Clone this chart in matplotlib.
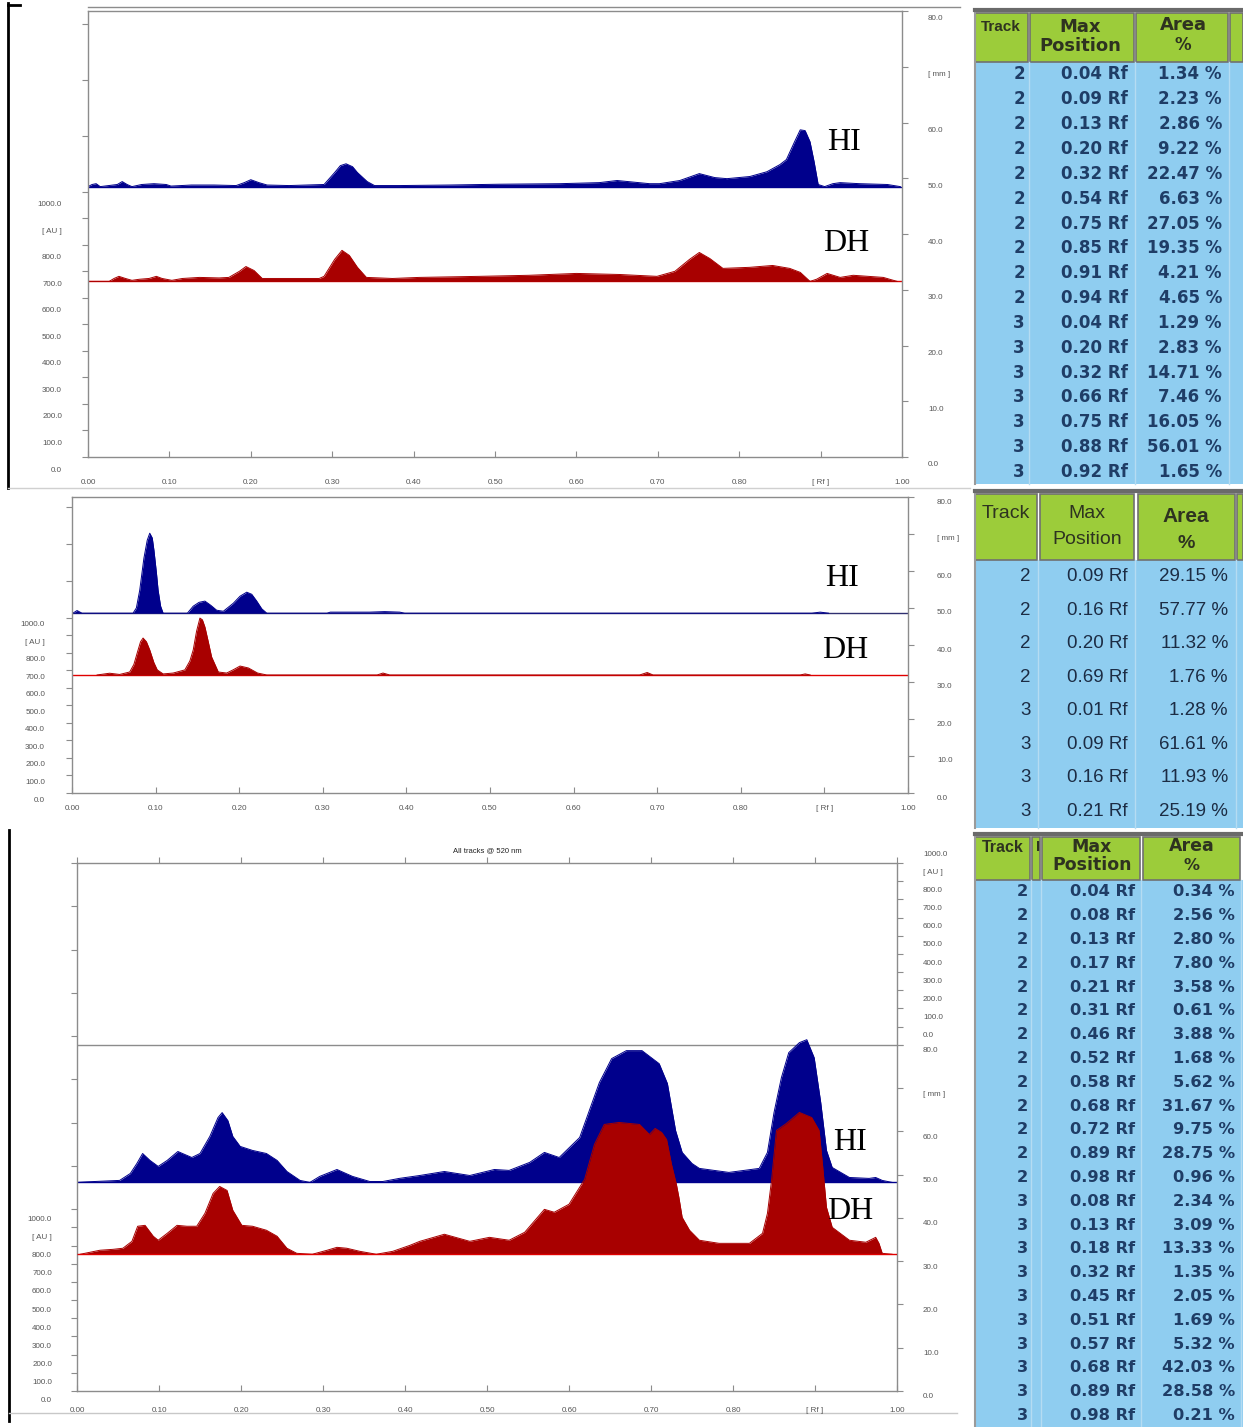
import matplotlib.pyplot as plt
import numpy as np
from matplotlib.patches import Rectangle
from matplotlib.transforms import ScaledTranslation, blended_transform_factory

W, H = 1243, 1427
fig = plt.figure(figsize=(W / 100, H / 100), dpi=100)

# ---------------- densitograms: Rf and signal above own baseline (AU)
p1_hi_rf = [0.000, 0.005, 0.010, 0.015, 0.036, 0.042, 0.048, 0.054, 0.066, 0.081, 0.096, 0.102,
            0.127, 0.155, 0.182, 0.192, 0.200, 0.210, 0.220, 0.247, 0.290, 0.303, 0.310, 0.317,
            0.325, 0.331, 0.343, 0.352, 0.383, 0.444, 0.505, 0.579, 0.628, 0.650, 0.690, 0.702,
            0.727, 0.751, 0.770, 0.785, 0.813, 0.834, 0.850, 0.858, 0.868, 0.875, 0.881, 0.887,
            0.892, 0.897, 0.905, 0.915, 0.924, 0.948, 0.982, 0.998]
p1_hi_au = [0, 8, 11, 0, 8, 19, 8, 0, 8, 11, 8, 2,
            6, 6, 4, 15, 26, 15, 6, 4, 8, 53, 79, 86,
            75, 53, 19, 4, 4, 6, 9, 11, 15, 23, 11, 11,
            23, 49, 34, 30, 38, 56, 83, 102, 169, 214, 211, 169,
            94, 8, 0, 11, 15, 11, 8, 0]
p1_dh_rf = [0.000, 0.026, 0.032, 0.038, 0.046, 0.054, 0.063, 0.075, 0.084, 0.091, 0.103, 0.116,
            0.137, 0.161, 0.173, 0.186, 0.194, 0.204, 0.214, 0.235, 0.284, 0.290, 0.303, 0.312,
            0.321, 0.331, 0.342, 0.374, 0.407, 0.481, 0.542, 0.600, 0.653, 0.699, 0.721, 0.739,
            0.751, 0.764, 0.780, 0.813, 0.841, 0.862, 0.875, 0.887, 0.895, 0.908, 0.924, 0.940,
            0.977, 0.994]
p1_dh_au = [0, 0, 11, 19, 11, 4, 8, 11, 19, 11, 4, 11,
            15, 13, 15, 38, 56, 41, 11, 11, 11, 19, 83, 117,
            98, 53, 15, 11, 15, 19, 23, 30, 26, 19, 38, 83,
            109, 86, 49, 53, 60, 49, 34, 0, 8, 30, 15, 23,
            15, 0]

p2_hi_rf = [0.000, 0.001, 0.006, 0.012, 0.073, 0.077, 0.081, 0.086, 0.090, 0.093, 0.096, 0.098,
            0.101, 0.103, 0.106, 0.109, 0.138, 0.145, 0.152, 0.159, 0.166, 0.173, 0.181, 0.193,
            0.201, 0.209, 0.215, 0.221, 0.227, 0.233, 0.305, 0.309, 0.329, 0.356, 0.374, 0.392,
            0.398, 0.885, 0.895, 0.905]
p2_hi_au = [0, 0, 15, 0, 0, 30, 131, 314, 417, 457, 430, 360,
            230, 131, 40, 0, 0, 40, 62, 69, 45, 17, 11, 57,
            97, 120, 108, 69, 25, 0, 0, 6, 6, 6, 9, 6,
            0, 0, 6, 0]
p2_dh_rf = [0.030, 0.039, 0.045, 0.057, 0.069, 0.074, 0.078, 0.082, 0.085, 0.089, 0.093, 0.098,
            0.102, 0.109, 0.121, 0.135, 0.141, 0.145, 0.149, 0.153, 0.156, 0.159, 0.163, 0.167,
            0.175, 0.185, 0.193, 0.201, 0.211, 0.222, 0.233, 0.365, 0.372, 0.380, 0.679, 0.688,
            0.695, 0.871, 0.877, 0.883]
p2_dh_au = [0, 6, 10, 3, 17, 60, 126, 190, 211, 190, 143, 70,
            29, 6, 11, 29, 80, 143, 250, 325, 315, 274, 190, 103,
            17, 11, 30, 51, 40, 11, 0, 0, 11, 0, 0, 14,
            0, 0, 6, 0]

p3_hi_rf = [0.000, 0.012, 0.052, 0.065, 0.073, 0.080, 0.089, 0.099, 0.110, 0.123, 0.140, 0.150,
            0.162, 0.172, 0.177, 0.184, 0.190, 0.199, 0.214, 0.231, 0.244, 0.256, 0.272, 0.284,
            0.296, 0.317, 0.336, 0.357, 0.373, 0.393, 0.418, 0.448, 0.479, 0.509, 0.527, 0.552,
            0.570, 0.588, 0.613, 0.637, 0.652, 0.670, 0.689, 0.710, 0.720, 0.730, 0.738, 0.750,
            0.759, 0.795, 0.832, 0.842, 0.850, 0.859, 0.868, 0.881, 0.890, 0.899, 0.907, 0.914,
            0.921, 0.942, 0.966, 0.974, 0.982, 0.994]
p3_hi_au = [0, 3, 11, 49, 104, 159, 121, 88, 121, 170, 137, 159,
            253, 357, 384, 340, 253, 198, 176, 159, 121, 60, 11, 0,
            33, 71, 33, 5, 5, 22, 38, 60, 38, 71, 66, 110,
            165, 137, 247, 549, 681, 725, 725, 653, 544, 285, 165, 104,
            77, 55, 77, 165, 384, 576, 714, 769, 785, 686, 439, 176,
            82, 27, 22, 27, 11, 0]
p3_dh_rf = [0.004, 0.028, 0.044, 0.056, 0.067, 0.074, 0.083, 0.093, 0.099, 0.110, 0.122, 0.134,
            0.146, 0.156, 0.166, 0.174, 0.183, 0.190, 0.201, 0.214, 0.231, 0.244, 0.256, 0.268,
            0.287, 0.305, 0.317, 0.329, 0.345, 0.365, 0.385, 0.406, 0.418, 0.448, 0.479, 0.503,
            0.527, 0.546, 0.570, 0.582, 0.600, 0.619, 0.631, 0.643, 0.661, 0.686, 0.698, 0.705,
            0.713, 0.719, 0.725, 0.731, 0.734, 0.738, 0.747, 0.759, 0.783, 0.820, 0.836, 0.842,
            0.847, 0.853, 0.865, 0.881, 0.896, 0.905, 0.909, 0.914, 0.921, 0.942, 0.962, 0.974,
            0.978, 0.982, 0.994]
p3_dh_au = [0, 22, 27, 33, 71, 154, 159, 99, 77, 115, 159, 154,
            154, 225, 335, 373, 351, 242, 159, 154, 132, 99, 33, 5,
            0, 22, 38, 33, 16, 0, 16, 49, 71, 110, 71, 93,
            77, 121, 247, 231, 275, 412, 604, 714, 725, 714, 659, 692,
            670, 631, 494, 384, 313, 203, 132, 77, 60, 60, 115, 225,
            406, 681, 719, 780, 752, 681, 500, 258, 148, 77, 66, 93,
            60, 5, 0]

# ---------------- peak tables
t1_track = [2, 2, 2, 2, 2, 2, 2, 2, 2, 2, 3, 3, 3, 3, 3, 3, 3]
t1_pos = [0.04, 0.09, 0.13, 0.20, 0.32, 0.54, 0.75, 0.85, 0.91, 0.94, 0.04, 0.20, 0.32, 0.66, 0.75, 0.88, 0.92]
t1_area = [1.34, 2.23, 2.86, 9.22, 22.47, 6.63, 27.05, 19.35, 4.21, 4.65, 1.29, 2.83, 14.71, 7.46, 16.05, 56.01, 1.65]

t2_track = [2, 2, 2, 2, 3, 3, 3, 3]
t2_pos = [0.09, 0.16, 0.20, 0.69, 0.01, 0.09, 0.16, 0.21]
t2_area = [29.15, 57.77, 11.32, 1.76, 1.28, 61.61, 11.93, 25.19]

t3_track = [2, 2, 2, 2, 2, 2, 2, 2, 2, 2, 2, 2, 2, 3, 3, 3, 3, 3, 3, 3, 3, 3, 3]
t3_pos = [0.04, 0.08, 0.13, 0.17, 0.21, 0.31, 0.46, 0.52, 0.58, 0.68, 0.72, 0.89, 0.98,
          0.08, 0.13, 0.18, 0.32, 0.45, 0.51, 0.57, 0.68, 0.89, 0.98]
t3_area = [0.34, 2.56, 2.80, 7.80, 3.58, 0.61, 3.88, 1.68, 5.62, 31.67, 9.75, 28.75, 0.96,
           2.34, 3.09, 13.33, 1.35, 2.05, 1.69, 5.32, 42.03, 28.58, 0.21]

x_ticks = [0.0, 0.1, 0.2, 0.3, 0.4, 0.5, 0.6, 0.7, 0.8, 0.9, 1.0]
x_labels = ['0.00', '0.10', '0.20', '0.30', '0.40', '0.50', '0.60', '0.70', '0.80', '[ Rf ]', '1.00']
au_ticks = [0, 100, 200, 300, 400, 500, 600, 700, 800, 900, 1000]
au_labels = ['0.0', '100.0', '200.0', '300.0', '400.0', '500.0', '600.0', '700.0', '800.0', '[ AU ]', '1000.0']
mm_ticks = [0, 10, 20, 30, 40, 50, 60, 70, 80]
mm_labels = ['0.0', '10.0', '20.0', '30.0', '40.0', '50.0', '60.0', '[ mm ]', '80.0']

AXC = '#8c8c8c'
NAVY = '#00008c'
DRED = '#a80000'
TF = dict(family='Liberation Sans', fontsize=5.8, color='#555555')


def offset(dx, dy):
    return ScaledTranslation(dx / 100, -dy / 100, fig.dpi_scale_trans)


def make_axes(x0, x1, ytop, ybot, ymax):
    ax = fig.add_axes([x0 / W, 1 - ybot / H, (x1 - x0) / W, (ybot - ytop) / H])
    ax.set_xlim(0, 1)
    ax.set_ylim(0, ymax)
    ax.patch.set_alpha(0)
    for s in ax.spines.values():
        s.set_color(AXC)
        s.set_linewidth(1.0)
    return ax


def trace(ax, rf, au, base, au_mm, color, z):
    top = base + np.array(au) * au_mm
    ax.fill_between(rf, base, top, color=color, lw=0, zorder=z)
    ax.plot(rf, top, color=color, lw=0.7, zorder=z)


def x_scale(ax, dy):
    ax.set_xticks(x_ticks)
    ax.tick_params(axis='x', direction='in', length=4, color=AXC, labelbottom=False)
    tr = blended_transform_factory(ax.transData, ax.transAxes) + offset(0, dy)
    for v, s in zip(x_ticks, x_labels):
        ax.text(v, 0, s, transform=tr, ha='center', va='center', **TF)


def left_scale(ax, au_mm, ymax, pad, dy):
    au_pos = [v * au_mm for v in au_ticks]
    extra = list(np.arange(au_pos[-1] + 10, ymax + 0.5, 10))
    ax.set_yticks(au_pos + extra)
    ax.tick_params(axis='y', direction='out', length=4, color=AXC, labelleft=False)
    tr = blended_transform_factory(ax.transAxes, ax.transData) + offset(-pad, dy)
    for v, s in zip(au_pos, au_labels):
        ax.text(0, v, s, transform=tr, ha='right', va='center', **TF)


def right_scale(ax, vals, labels, dys, pad):
    ax2 = ax.twinx()
    ax2.set_ylim(ax.get_ylim())
    ax2.set_yticks(vals)
    ax2.tick_params(axis='y', direction='out', length=4, color=AXC, labelright=False)
    for s in ax2.spines.values():
        s.set_visible(False)
    tr = blended_transform_factory(ax.transAxes, ax.transData)
    for v, s, dy in zip(vals, labels, dys):
        ax.text(1, v, s, transform=tr + offset(pad, dy), ha='left', va='center', **TF)


def tag(ax, x, y, s):
    ax.text(x, y, s, family='Liberation Serif', fontsize=23, color='black', ha='center', va='center')


# ---------------- overlay in pixel coordinates (frames and tables)
ov = fig.add_axes([0, 0, 1, 1])
ov.set_xlim(0, W)
ov.set_ylim(H, 0)
ov.axis('off')

ov.plot([8, 8], [3, 488], color='black', lw=2)
ov.plot([8, 20], [5, 5], color='black', lw=2)
ov.plot([9, 9], [830, 1421], color='black', lw=2)
ov.plot([9, 957], [1413, 1413], color='#c8c8c8', lw=1)
ov.plot([8, 970], [488, 488], color='#d0d0d0', lw=1)
ov.plot([88, 960], [7, 7], color=AXC, lw=1)

# ---------------- panel 1
au1 = 0.0476
ax = make_axes(88, 902, 11, 457, 80)
ax.hlines(48.5, 0, 1, color=NAVY, lw=1.0)
ax.hlines(31.5, 0, 1, color='#e00000', lw=1.0)
trace(ax, p1_hi_rf, p1_hi_au, 48.5, au1, NAVY, 2)
trace(ax, p1_dh_rf, p1_dh_au, 31.5, au1, DRED, 2)
x_scale(ax, 25)
left_scale(ax, au1, 80, 26, 13)
right_scale(ax, mm_ticks, mm_labels, [8] * 9, 26)
tag(ax, 0.929, 56.4, 'HI')
tag(ax, 0.931, 38.3, 'DH')

# ---------------- panel 2
au2 = 0.0473
ax = make_axes(72, 908, 497, 793, 80)
ax.hlines(48.6, 0, 1, color='#303070', lw=1.0)
ax.hlines(31.9, 0, 1, color='#e00000', lw=1.0)
trace(ax, p2_hi_rf, p2_hi_au, 48.6, au2, NAVY, 2)
trace(ax, p2_dh_rf, p2_dh_au, 31.9, au2, DRED, 2)
x_scale(ax, 15)
left_scale(ax, au2, 80, 27, 7)
right_scale(ax, mm_ticks, mm_labels, [5] * 9, 29)
tag(ax, 0.921, 58.1, 'HI')
tag(ax, 0.925, 38.6, 'DH')

# ---------------- panel 3
au3 = 0.042
ymax3 = 121.7
ax = make_axes(77, 897, 863, 1391, ymax3)
ax.axhline(80, color=AXC, lw=1.0)
trace(ax, p3_hi_rf, p3_hi_au, 48.2, au3, NAVY, 2)
ax.hlines(48.2, 0, 1, color=NAVY, lw=1.0, zorder=2)
trace(ax, p3_dh_rf, p3_dh_au, 31.6, au3, DRED, 3)
ax.hlines(31.6, 0, 1, color='#e00000', lw=1.0, zorder=3)
x_scale(ax, 19)
axt = ax.twiny()
axt.set_xlim(0, 1)
axt.set_xticks(x_ticks)
axt.tick_params(axis='x', direction='out', length=4, color=AXC, labeltop=False)
for s in axt.spines.values():
    s.set_visible(False)
left_scale(ax, au3, ymax3, 25, 10)
r_vals = mm_ticks + [80 + v * au3 for v in au_ticks]
r_labels = mm_labels + au_labels
right_scale(ax, r_vals, r_labels, [6] * 9 + [-9] * 11, 26)
ax.text(0.5, 1, 'All tracks @ 520 nm', transform=ax.transAxes + offset(0, -12),
        ha='center', va='center', family='Liberation Sans', fontsize=5.5, color='#222222')
tag(ax, 0.943, 57.4, 'HI')
tag(ax, 0.943, 41.5, 'DH')

# ---------------- tables
GREEN = '#9ccc3a'
BLUE = '#8fcdf0'
HEDGE = '#707070'


def table(top, hdr_bot, row_h, cols, rights, rows, bfont, bsize, bweight, bcolor):
    bottom = hdr_bot + len(rows) * row_h
    ov.add_patch(Rectangle((975, hdr_bot), 268, bottom - hdr_bot, fc=BLUE, ec='none'))
    for l, r in cols:
        ov.add_patch(Rectangle((l, top), r - l, hdr_bot - top, fc=GREEN, ec=HEDGE, lw=1.2))
        ov.plot([r + 1, r + 1], [hdr_bot, bottom], color='#b5dcf2', lw=1)
    ov.plot([975, 975], [top, bottom], color='#9a9a9a', lw=1.5)
    ov.plot([975, 1243], [top - 3, top - 3], color='#6a6a6a', lw=3)
    for i, vals in enumerate(rows):
        yc = hdr_bot + (i + 0.5) * row_h
        for xr, s in zip(rights, vals):
            ov.text(xr, yc, s, ha='right', va='center', family=bfont, fontsize=bsize,
                    fontweight=bweight, color=bcolor)


def hdr(x, y, s, fam, size, weight):
    ov.text(x, y, s, ha='center', va='center', family=fam, fontsize=size, fontweight=weight,
            color='#2e3320')


rows1 = [(str(t), '%.2f Rf' % p, '%.2f %%' % a) for t, p, a in zip(t1_track, t1_pos, t1_area)]
table(13, 62, 24.85, [(975, 1028), (1030, 1134), (1136, 1228), (1230, 1243)], [1025, 1128, 1222],
      rows1, 'DejaVu Sans', 12, 'bold', '#1f3d66')
hdr(1001, 27, 'Track', 'Liberation Sans', 11, 'bold')
hdr(1080, 27, 'Max', 'DejaVu Sans', 13, 'bold')
hdr(1080, 46, 'Position', 'DejaVu Sans', 13, 'bold')
hdr(1183, 25, 'Area', 'DejaVu Sans', 13, 'bold')
hdr(1183, 45, '%', 'DejaVu Sans', 12, 'bold')

rows2 = [(str(t), '%.2f Rf' % p, '%.2f %%' % a) for t, p, a in zip(t2_track, t2_pos, t2_area)]
table(494, 560, 33.5, [(975, 1037), (1040, 1134), (1138, 1235), (1237, 1243)], [1031, 1128, 1228],
      rows2, 'Liberation Sans', 13.5, 'normal', '#1c2c44')
hdr(1006, 514, 'Track', 'Liberation Sans', 14, 'normal')
hdr(1087, 514, 'Max', 'Liberation Sans', 14, 'normal')
hdr(1087, 540, 'Position', 'Liberation Sans', 14, 'normal')
hdr(1186, 517, 'Area', 'Liberation Sans', 15, 'bold')
hdr(1186, 543, '%', 'Liberation Sans', 14, 'bold')

rows3 = [(str(t), '%.2f Rf' % p, '%.2f %%' % a) for t, p, a in zip(t3_track, t3_pos, t3_area)]
table(837, 880, 23.8, [(975, 1030), (1032, 1040), (1042, 1140), (1143, 1240)], [1028, 1135, 1235],
      rows3, 'DejaVu Sans', 11.7, 'bold', '#1f3d66')
hdr(1003, 847, 'Track', 'Liberation Sans', 11.5, 'bold')
hdr(1038, 847, 'I', 'Liberation Sans', 11, 'bold')
hdr(1092, 847, 'Max', 'DejaVu Sans', 12.5, 'bold')
hdr(1092, 865, 'Position', 'DejaVu Sans', 12.5, 'bold')
hdr(1192, 846, 'Area', 'DejaVu Sans', 12.5, 'bold')
hdr(1192, 865, '%', 'DejaVu Sans', 11.5, 'bold')

fig.savefig('out.png', dpi=100)
